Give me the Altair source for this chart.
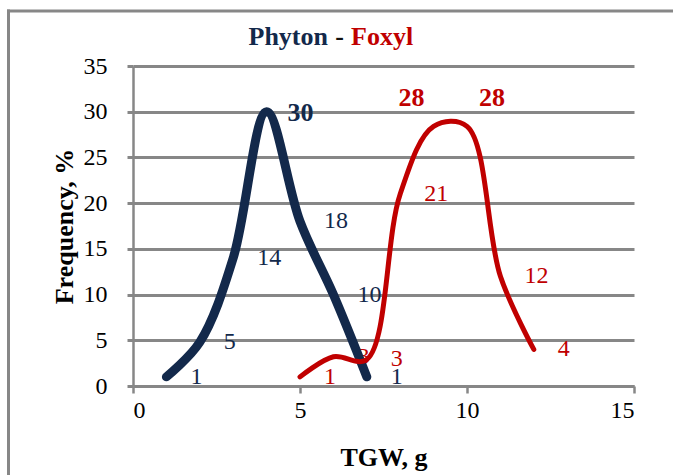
import altair as alt
import pandas as pd

# ---- data ----
tgw_phyton = [1, 2, 3, 4, 5, 6, 7]
freq_phyton = [1, 4.8, 14, 30, 18, 10, 1]
tgw_foxyl = [5, 6, 7, 8, 9, 10, 11, 12]
freq_foxyl = [1, 3.2, 2.9, 21, 28.4, 28.4, 12, 4]
x_ticks = [0, 5, 10, 15]
y_ticks = [0, 5, 10, 15, 20, 25, 30, 35]
title_parts = ["Phyton", "-", "Foxyl"]
x_title = "TGW, g"
y_title = "Frequency, %"

NAVY = "#13294B"
RED = "#C00000"
GRID = "#878787"
FONT = "Liberation Serif"

ph = pd.DataFrame({"tgw": tgw_phyton, "freq": freq_phyton})
fx = pd.DataFrame({"tgw": tgw_foxyl, "freq": freq_foxyl})

x = alt.X("tgw:Q", scale=alt.Scale(domain=[0, 15], nice=False, zero=False),
          axis=alt.Axis(values=x_ticks, title=x_title, grid=False,
                        domainColor=GRID, domainWidth=3, tickColor=GRID,
                        tickWidth=2.5, tickSize=7, labelPadding=5,
                        labelFont=FONT, labelFontSize=24, labelColor="black",
                        titleFont=FONT, titleFontSize=26, titleFontWeight="bold",
                        titleColor="black", titleBaseline="alphabetic", titleY=79))
y = alt.Y("freq:Q", scale=alt.Scale(domain=[0, 35], nice=False),
          axis=alt.Axis(values=y_ticks, title=y_title, grid=True,
                        gridColor=GRID, gridWidth=3, domainColor=GRID,
                        domainWidth=2.5, tickColor=GRID, tickWidth=3, tickSize=6,
                        labelPadding=20, labelFont=FONT, labelFontSize=24,
                        labelColor="black", titleFont=FONT, titleFontSize=26,
                        titleFontWeight="bold", titleColor="black",
                        titleBaseline="alphabetic", titleX=-61))

def labels(df, color, flt, dx, dy=0, bold=False, align="left", size=24):
    return alt.Chart(df).transform_filter(flt).mark_text(
        font=FONT, fontSize=size, fontWeight="bold" if bold else "normal",
        color=color, align=align, baseline="middle", dx=dx, dy=dy
    ).encode(x=x, y=y, text=alt.Text("freq:Q", format=".0f"))

red_lab = labels(fx, RED, "datum.tgw != 9 && datum.tgw != 10", 24)
red_b1 = labels(fx, RED, "datum.tgw == 9", -22, -28, True, "center", 26)
red_b2 = labels(fx, RED, "datum.tgw == 10", 25, -28, True, "center", 26)
navy_lab = labels(ph, NAVY, "datum.tgw != 4", 24)
navy_b = labels(ph, NAVY, "datum.tgw == 4", 21, 1, True, "left", 26)

navy_line = alt.Chart(ph).mark_line(
    interpolate="catmull-rom", color=NAVY, strokeWidth=9, strokeCap="round",
    strokeJoin="round").encode(x=x, y=y)
red_line = alt.Chart(fx).mark_line(
    interpolate="catmull-rom", color=RED, strokeWidth=5, strokeCap="round",
    strokeJoin="round").encode(x=x, y=y)

def title_text(i, color, align, xpos):
    return alt.Chart(pd.DataFrame({"t": [title_parts[i]]})).mark_text(
        font=FONT, fontSize=26, fontWeight="bold", color=color, align=align,
        baseline="alphabetic").encode(text="t:N", x=alt.value(xpos), y=alt.value(-21))

t1 = title_text(0, NAVY, "right", 195)
t2 = title_text(1, "#111111", "center", 206.5)
t3 = title_text(2, RED, "left", 218)

frame_df = pd.DataFrame({"a": [0]})
frame_left = alt.Chart(frame_df).mark_rule(color=GRID, strokeWidth=3).encode(
    x=alt.value(-124.5), y=alt.value(-56.5), y2=alt.value(420))
frame_top = alt.Chart(frame_df).mark_rule(color=GRID, strokeWidth=3).encode(
    x=alt.value(-126), x2=alt.value(545), y=alt.value(-55))

chart = alt.layer(
    red_lab, red_b1, red_b2, navy_lab, navy_b, navy_line, red_line,
    t1, t2, t3, frame_left, frame_top
).properties(
    width=501, height=320,
    autosize=alt.AutoSizeParams(type="none"),
    padding={"left": 133, "top": 66, "right": 39, "bottom": 89},
    background="white"
).configure_view(stroke=None)

chart.save("out.html", embed_options={"renderer": "svg", "actions": False})
